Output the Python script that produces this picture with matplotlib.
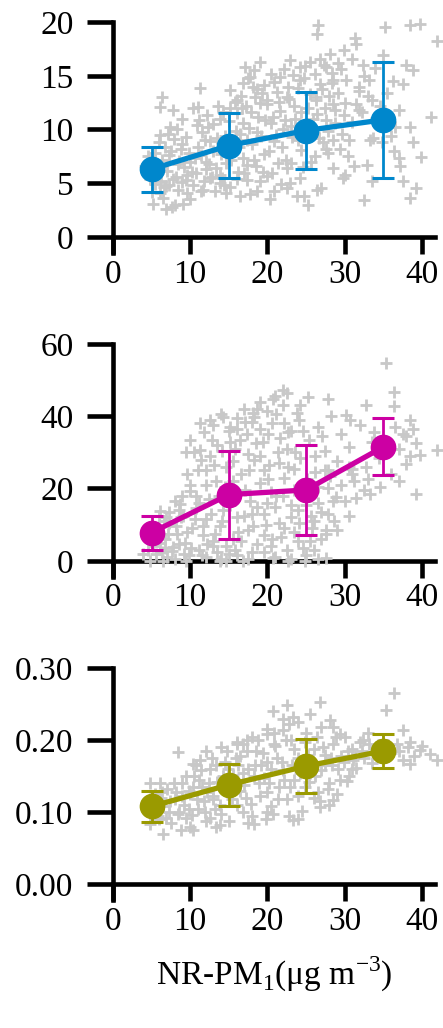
"""
NR-PM1 と各成分の散布図（3段）
"""
import matplotlib
matplotlib.use('Agg')
import matplotlib.pyplot as plt

plt.rcParams['font.family'] = ['Liberation Serif', 'DejaVu Serif']
plt.rcParams['mathtext.fontset'] = 'custom'
plt.rcParams['mathtext.rm'] = 'Liberation Serif'

# ビン中心と平均値・標準偏差
bin_x = [5, 15, 25, 35]
mean1 = [6.3, 8.5, 9.9, 10.9]
std1 = [2.1, 3.0, 3.55, 5.4]
mean2 = [7.8, 18.3, 19.6, 31.5]
std2 = [4.7, 12.2, 12.5, 7.9]
mean3 = [0.108, 0.138, 0.164, 0.185]
std3 = [0.021, 0.029, 0.038, 0.023]

# 散布図データ
sc1_x = [26.6, 26.4, 35.2, 38.4, 39.7, 41.9, 31.3, 31.5, 29.9, 30.9, 35.0, 22.9, 19.0, 17.1, 24.2, 25.5,
         26.8, 27.6, 32.4, 33.9, 38.0, 38.9, 36.3, 21.6, 24.2, 28.5, 30.2, 31.9, 33.2, 17.7, 16.9, 18.6,
         15.1, 11.3, 6.3, 6.1, 7.8, 11.0, 16.0, 19.9, 22.5, 26.3, 28.5, 31.9, 33.6, 37.1, 41.2, 38.4,
         38.9, 33.7, 28.5, 29.4, 27.6, 37.1, 39.9, 36.4, 32.9, 28.5, 30.1, 37.6, 39.3, 38.4, 32.5, 25.3,
         26.4, 24.7, 22.5, 20.8, 18.6, 16.4, 14.7, 11.4, 9.1, 7.6, 5.2, 6.1, 6.9, 9.5, 12.5, 13.8,
         17.3, 19.9, 22.5, 24.2,
         4.5, 5.2, 5.8, 6.4, 7.0, 7.5, 8.1, 8.6, 9.2, 9.8, 4.8, 5.5, 6.2, 7.3, 8.4, 9.0,
         4.2, 6.8, 7.9, 9.5, 5.9, 8.8, 10.2, 10.6, 11.0, 11.5, 10.9, 12.1, 12.5, 13.0, 13.4, 12.8,
         11.8, 10.4, 14.0, 14.5, 15.0, 15.5, 16.0, 16.4, 16.8, 17.2, 17.6, 18.0, 18.4, 18.8, 19.2, 19.6,
         20.0, 20.4, 20.8, 21.2, 21.6, 22.0, 22.4, 22.8, 23.2, 23.6, 24.0, 24.4, 24.8, 25.2, 25.6, 26.0,
         26.4, 26.8, 27.2, 27.6, 28.0, 28.4, 28.8, 29.2, 29.6, 30.0, 30.4, 31.0, 31.8, 32.5, 33.3, 34.0,
         35.5, 36.5, 37.5, 17.5, 18.3, 19.5, 20.5, 22.2, 16.6, 15.8, 14.2, 13.6, 12.2, 11.2, 8.3, 7.1,
         16.2, 18.5, 20.6, 23.0, 21.8, 19.0, 15.2, 13.2, 17.8, 14.6, 12.0, 9.6, 6.5, 5.0,
         5.5, 6.0, 6.6, 7.2, 7.8, 8.4, 9.0, 9.6, 10.0, 10.8, 11.4, 11.9, 12.4, 12.9, 13.5, 14.1,
         14.7, 15.3, 15.9, 16.3, 16.9, 17.4, 17.9, 18.2, 18.7, 19.1, 19.7, 20.2, 20.7, 21.1, 21.5, 21.9,
         22.3, 22.7, 23.1, 23.5, 23.9, 24.3, 24.7, 25.1, 25.5, 25.9, 26.3, 26.7, 27.1, 27.5, 27.9, 28.3,
         28.7, 29.1, 29.5, 29.9, 12.3, 13.8, 15.2, 16.7, 18.1, 19.3, 20.9, 23.3, 24.9, 26.1, 27.3, 28.1,
         7.4, 6.1, 8.9, 10.3, 14.4, 16.0, 17.3, 19.4, 21.4, 22.9, 24.6, 26.2, 27.8, 30.6, 31.5, 32.2,
         33.0, 34.6, 29.8, 27.0, 23.8, 20.3, 17.0, 10.0, 8.0, 6.9, 11.6, 13.9, 36.0, 37.2, 31.2, 34.8,
         33.5]
sc1_y = [19.7, 18.9, 19.5, 19.7, 19.8, 18.2, 18.5, 18.0, 17.4, 16.6, 16.9, 16.5, 16.3, 15.8, 15.8, 16.3,
         16.6, 15.8, 16.0, 15.7, 16.0, 15.5, 14.5, 14.9, 14.6, 14.6, 14.6, 14.0, 14.6, 14.9, 14.3, 13.8,
         13.7, 13.9, 13.0, 12.1, 11.8, 12.1, 12.7, 12.7, 13.0, 13.0, 12.4, 11.8, 12.7, 11.8, 11.2, 10.2,
         8.8, 9.2, 9.0, 8.2, 8.2, 7.3, 7.4, 8.0, 6.7, 6.4, 5.8, 5.2, 4.5, 3.6, 3.4, 3.0,
         4.4, 3.8, 4.5, 4.3, 4.3, 3.8, 4.1, 4.3, 3.1, 2.8, 3.1, 4.1, 4.7, 5.3, 5.5, 5.0,
         5.3, 5.7, 6.4, 5.5,
         7.5, 6.8, 5.9, 7.2, 6.1, 8.0, 5.6, 7.1, 6.5, 7.8, 5.4, 4.9, 5.2, 4.8, 4.4, 5.1,
         6.6, 8.4, 9.1, 9.3, 8.8, 8.2, 6.0, 7.3, 8.4, 9.8, 10.4, 7.0, 8.9, 10.5, 6.4, 5.6,
         5.2, 4.8, 7.7, 9.4, 10.8, 8.3, 11.5, 9.6, 7.3, 12.2, 10.1, 8.6, 13.0, 11.2, 9.4, 7.7,
         12.4, 10.6, 8.9, 13.5, 11.7, 10.0, 7.2, 12.8, 9.3, 11.0, 13.9, 8.1, 10.4, 12.0, 7.0, 9.7,
         11.4, 14.2, 8.8, 10.9, 13.1, 15.3, 11.8, 16.2, 9.6, 12.5, 7.5, 10.7, 13.6, 15.0, 9.0, 11.1,
         13.4, 10.2, 14.2, 14.8, 15.5, 14.1, 15.2, 15.6, 13.1, 12.6, 11.6, 12.2, 11.3, 10.9, 10.0, 9.6,
         6.0, 6.6, 5.9, 6.9, 4.9, 5.2, 4.6, 4.3, 4.0, 6.9, 6.3, 4.1, 3.6, 4.2,
         7.8, 6.4, 4.6, 7.6, 5.4, 6.8, 8.6, 5.8, 7.0, 5.9, 7.6, 9.0, 6.8, 8.0, 9.2, 5.5,
         8.1, 7.2, 9.9, 8.4, 10.6, 9.0, 11.6, 7.2, 9.8, 12.5, 10.9, 8.0, 11.2, 9.5, 12.6, 8.4,
         10.9, 14.0, 10.3, 12.2, 9.0, 11.6, 14.8, 9.9, 13.3, 11.0, 12.7, 9.2, 13.8, 12.0, 9.9, 14.3,
         10.6, 13.4, 15.6, 11.3, 10.2, 11.0, 12.0, 12.0, 14.0, 13.4, 14.4, 15.1, 15.9, 15.2, 16.0, 17.0,
         10.2, 9.5, 11.0, 12.0, 4.8, 5.4, 6.7, 6.0, 6.9, 5.0, 6.5, 7.5, 7.8, 9.0, 12.4, 11.6,
         13.1, 12.2, 5.5, 4.5, 3.8, 3.5, 5.9, 3.5, 3.0, 2.6, 4.4, 5.8, 9.4, 6.6, 6.6, 8.8,
         5.2]

sc2_x = [35.3, 36.4, 36.4, 32.8, 22.0, 22.5, 20.7, 25.3, 27.9, 24.2, 18.6, 18.2, 30.2, 30.7, 38.4, 38.9,
         37.6, 41.9, 39.8, 38.0, 37.1, 39.3, 33.3, 34.6, 31.0, 30.6, 27.9, 28.9, 27.9, 27.6, 27.6, 24.8,
         22.6, 20.7, 16.9, 14.7, 13.8, 9.5, 6.5, 4.8, 3.9, 11.3, 12.5, 14.3, 15.2, 10.0, 9.5, 11.3,
         12.1, 10.0, 8.7, 6.1, 6.9,
         4.5, 5.2, 5.8, 6.3, 6.8, 7.3, 7.8, 8.3, 8.8, 9.3, 9.8, 10.2, 10.7, 11.1, 11.6, 12.0,
         12.4, 12.9, 13.3, 13.8, 14.2, 14.6, 15.0, 15.4, 15.8, 16.2, 16.6, 17.0, 17.4, 17.8, 18.2, 18.6,
         19.0, 19.4, 19.8, 20.2, 20.6, 21.0, 21.4, 21.8, 22.2, 22.6, 23.0, 23.4, 23.8, 24.2, 24.6, 25.0,
         25.4, 25.8, 26.2, 26.6, 27.0, 27.4, 27.8, 28.2, 28.6, 29.0, 29.5, 30.0, 30.6, 31.2, 32.0, 32.8,
         33.6, 34.4, 36.0, 37.0, 38.0, 39.2, 11.0, 10.5, 11.8, 13.0, 14.0, 15.0, 16.0, 17.0, 18.0, 19.0,
         20.0, 21.0, 22.0, 12.5, 13.5, 14.5, 15.5, 16.5, 17.5, 18.5, 19.5, 20.5, 21.5, 22.5, 23.5, 24.5,
         25.5, 26.5, 27.5, 9.0, 8.5, 10.0, 6.0, 7.0, 8.0, 12.0, 14.0, 16.0, 17.5, 19.5, 21.0, 23.0,
         25.0, 26.5, 13.0, 15.5, 17.5, 19.5, 21.5, 23.5, 25.5, 27.0, 18.0, 20.0, 22.0, 24.0, 26.0, 28.5,
         29.5, 31.0, 32.5, 33.0, 35.0, 36.5,
         5.0, 5.6, 6.1, 6.6, 7.1, 7.6, 8.1, 8.6, 9.1, 9.6, 10.1, 10.6, 11.2, 11.7, 12.2, 12.7,
         13.2, 13.7, 14.1, 14.6, 15.1, 15.6, 16.1, 16.6, 17.1, 17.6, 18.1, 18.6, 19.1, 19.6, 20.1, 20.6,
         21.1, 21.6, 22.1, 22.6, 23.1, 23.6, 24.1, 24.6, 25.1, 25.6, 26.1, 26.6, 27.1, 27.6, 28.1, 12.0,
         13.1, 14.1, 15.1, 16.1, 17.1, 18.1, 19.1, 20.1, 21.1, 22.1, 23.1, 24.1, 10.8, 9.6, 11.4, 12.8,
         8.0, 7.2, 4.6, 6.8, 9.2, 11.5, 13.5, 15.8, 18.0, 20.5, 22.5, 24.0, 26.0, 29.0, 30.5, 31.5,
         33.8, 35.5, 38.5]
sc2_y = [54.6, 46.8, 42.7, 43.1, 47.2, 46.3, 44.9, 45.4, 44.9, 43.1, 42.1, 39.8, 40.3, 38.9, 38.9, 36.6,
         35.2, 30.6, 29.2, 26.9, 22.2, 18.5, 18.5, 20.4, 24.1, 25.9, 25.0, 17.6, 13.0, 7.4, 0.9, 0.0,
         0.0, 0.9, 0.0, 0.0, 0.0, 0.0, 0.0, 0.0, 1.9, 38.0, 38.9, 39.8, 37.0, 33.3, 30.1, 30.6,
         25.0, 19.4, 15.7, 13.9, 12.0,
         6.5, 4.0, 8.8, 2.5, 6.0, 10.5, 3.8, 7.5, 12.0, 5.0, 1.5, 9.0, 14.5, 3.0, 7.0, 11.5,
         17.0, 5.5, 22.0, 9.5, 14.0, 26.0, 2.0, 19.0, 31.0, 8.0, 24.0, 12.5, 35.0, 16.5, 28.0, 4.5,
         21.5, 33.0, 10.0, 26.5, 38.0, 15.0, 30.0, 6.5, 23.0, 35.5, 12.0, 19.5, 41.0, 28.5, 3.5, 15.5,
         33.5, 9.0, 24.5, 37.0, 13.5, 30.5, 20.0, 40.0, 11.0, 27.5, 35.0, 16.5, 31.5, 22.0, 37.5, 26.0,
         33.0, 28.5, 24.0, 31.0, 34.5, 32.5, 25.0, 30.0, 35.5, 37.5, 40.5, 36.0, 39.5, 42.0, 38.5, 44.0,
         41.5, 45.5, 43.0, 29.0, 32.0, 20.5, 27.5, 33.5, 29.5, 32.5, 25.0, 19.0, 27.0, 31.0, 25.5, 21.0,
         18.0, 16.0, 25.0, 18.0, 14.0, 21.0, 12.5, 1.0, 0.5, 1.0, 0.5, 1.5, 0.5, 2.5, 1.0, 0.5,
         1.5, 0.5, 4.0, 6.0, 8.5, 7.0, 10.5, 8.0, 5.5, 6.0, 13.0, 16.0, 18.0, 14.0, 11.0, 16.5,
         21.0, 25.5, 19.5, 22.5, 29.5, 37.0,
         9.5, 2.0, 5.0, 11.0, 7.5, 2.8, 9.5, 4.5, 12.5, 8.0, 3.5, 11.5, 16.0, 9.5, 4.5, 13.0,
         7.5, 18.0, 11.0, 4.0, 15.5, 22.0, 12.0, 5.5, 19.5, 25.0, 9.5, 15.0, 29.0, 13.0, 22.5, 6.0,
         18.0, 34.0, 9.0, 26.0, 15.5, 30.0, 10.5, 36.0, 22.5, 12.5, 29.0, 20.5, 34.5, 8.5, 23.5, 21.0,
         26.5, 30.5, 33.0, 36.5, 38.5, 41.0, 36.5, 35.0, 40.5, 38.0, 36.0, 39.0, 18.0, 24.0, 28.0, 33.5,
         16.5, 13.5, 3.0, 3.5, 2.0, 1.5, 2.5, 3.0, 2.5, 4.0, 3.0, 5.5, 3.0, 8.5, 12.5, 17.5,
         35.5, 33.0, 29.0]

sc3_x = [36.4, 35.3, 26.8, 22.5, 20.7, 25.5, 23.3, 28.1, 28.5, 29.4, 37.6, 38.4, 39.7, 41.9, 41.0, 38.4,
         32.4, 31.1, 30.3, 28.5, 26.8, 23.3, 20.7, 18.2, 13.4, 10.4, 6.5, 4.8, 4.8, 6.1, 8.4, 10.4,
         11.3, 16.0, 17.3, 19.9, 22.0,
         4.5, 5.0, 5.5, 6.0, 6.5, 7.0, 7.5, 8.0, 8.5, 9.0, 9.5, 10.0, 10.5, 11.0, 11.5, 12.0,
         12.5, 13.0, 13.5, 14.0, 14.5, 15.0, 15.5, 16.0, 16.5, 17.0, 17.5, 18.0, 18.5, 19.0, 19.5, 20.0,
         20.5, 21.0, 21.5, 22.0, 22.5, 23.0, 23.5, 24.0, 24.5, 25.0, 25.5, 26.0, 26.5, 27.0, 27.5, 28.0,
         28.5, 29.0, 29.5, 30.0, 30.5, 31.0, 31.5, 32.0, 32.5, 33.0, 33.5, 34.0, 35.0, 36.0, 36.8, 37.5,
         39.0, 40.0, 6.2, 7.2, 8.2, 9.2, 10.2, 11.2, 12.2, 13.2, 14.2, 15.2, 16.2, 17.2, 18.2, 19.2,
         20.2, 21.2, 22.2, 23.2, 24.2, 25.2, 26.2, 27.2, 28.2, 29.2, 14.8, 16.8, 18.8, 20.8, 22.8, 12.8,
         10.8, 24.8, 26.8, 22.8, 19.8, 16.8, 13.8, 11.8, 9.8, 8.8,
         5.3, 5.8, 6.4, 6.9, 7.4, 7.9, 8.4, 8.9, 9.4, 9.9, 10.4, 10.9, 11.4, 11.9, 12.4, 12.9,
         13.4, 13.9, 14.4, 14.9, 15.4, 15.9, 16.4, 16.9, 17.4, 17.9, 18.4, 18.9, 19.4, 19.9, 20.4, 20.9,
         21.4, 21.9, 22.4, 22.9, 23.4, 23.9, 24.4, 24.9, 25.4, 25.9, 26.4, 26.9, 27.4, 27.9, 28.4, 28.9,
         29.4, 29.9, 30.4, 30.9, 31.4, 32.3, 33.2, 34.2, 35.6, 37.0, 38.2, 12.0, 14.0, 16.0, 18.0, 20.0,
         22.0, 24.0, 10.0, 12.5, 15.0, 17.5, 20.0, 24.0, 26.0, 28.0]
sc3_y = [0.265, 0.242, 0.253, 0.249, 0.241, 0.237, 0.232, 0.228, 0.219, 0.209, 0.214, 0.198, 0.186, 0.172,
         0.181, 0.167, 0.200, 0.172, 0.144, 0.117, 0.107, 0.089, 0.098, 0.084, 0.080, 0.075, 0.070, 0.084,
         0.140, 0.140, 0.184, 0.167, 0.172, 0.195, 0.200, 0.209, 0.214,
         0.115, 0.098, 0.125, 0.090, 0.108, 0.132, 0.085, 0.118, 0.100, 0.140, 0.092, 0.125, 0.150, 0.105,
         0.135, 0.088, 0.160, 0.118, 0.142, 0.098, 0.170, 0.128, 0.152, 0.110, 0.178, 0.138, 0.160, 0.095,
         0.185, 0.122, 0.148, 0.170, 0.108, 0.192, 0.135, 0.158, 0.118, 0.200, 0.145, 0.175, 0.102, 0.210,
         0.155, 0.188, 0.128, 0.218, 0.165, 0.140, 0.195, 0.125, 0.178, 0.205, 0.150, 0.188, 0.162, 0.198,
         0.175, 0.210, 0.168, 0.190, 0.200, 0.182, 0.195, 0.172, 0.178, 0.192,
         0.120, 0.100, 0.128, 0.110, 0.096, 0.145, 0.128, 0.105, 0.150, 0.140, 0.165, 0.120, 0.150, 0.165,
         0.140, 0.175, 0.145, 0.165, 0.155, 0.180, 0.150, 0.190, 0.175, 0.160, 0.185, 0.195, 0.200, 0.210,
         0.222, 0.175, 0.165, 0.135, 0.115, 0.095, 0.090, 0.100, 0.082, 0.115, 0.130, 0.075,
         0.110, 0.095, 0.128, 0.092, 0.115, 0.140, 0.098, 0.122, 0.150, 0.105, 0.135, 0.118, 0.158, 0.100,
         0.140, 0.122, 0.165, 0.110, 0.138, 0.160, 0.118, 0.175, 0.130, 0.155, 0.185, 0.112, 0.165, 0.140,
         0.182, 0.128, 0.160, 0.195, 0.118, 0.170, 0.200, 0.135, 0.188, 0.122, 0.170, 0.198, 0.142, 0.168,
         0.205, 0.158, 0.180, 0.132, 0.165, 0.205, 0.145, 0.170, 0.185, 0.160, 0.178, 0.185, 0.195, 0.180,
         0.178, 0.185, 0.190, 0.185, 0.190, 0.198, 0.205, 0.215, 0.230, 0.225, 0.080, 0.092, 0.088, 0.085,
         0.100, 0.090, 0.120, 0.110]

colors = ['#0087CC', '#CC00A3', '#9A9A00']
yticks = [[0, 5, 10, 15, 20], [0, 20, 40, 60], [0.0, 0.1, 0.2, 0.3]]
yticklabels = [['0', '5', '10', '15', '20'], ['0', '20', '40', '60'], ['0.00', '0.10', '0.20', '0.30']]
ylims = [(-1.5, 20), (-4.5, 60), (-0.022, 0.30)]
xticks = [0, 10, 20, 30, 40]

fig = plt.figure(figsize=(4.43, 10.28), dpi=100)
# 各パネルの位置 [left, bottom, width, height]
positions = [[0.255, 0.754, 0.727, 0.2245],
             [0.255, 0.4387, 0.727, 0.2267],
             [0.255, 0.1245, 0.727, 0.2255]]

sc_data = [(sc1_x, sc1_y), (sc2_x, sc2_y), (sc3_x, sc3_y)]
means = [mean1, mean2, mean3]
stds = [std1, std2, std3]

for i in range(3):
    ax = fig.add_axes(positions[i])
    ax.plot(sc_data[i][0], sc_data[i][1], linestyle='none', marker='+', markersize=9,
            markeredgewidth=2.0, color='#c8c8c8', zorder=3, clip_on=False)
    ax.errorbar(bin_x, means[i], yerr=stds[i], color=colors[i], marker='o', markersize=17.5,
                linewidth=3.8, elinewidth=2.0, capsize=8, capthick=2.2, zorder=5, clip_on=False)

    ax.set_xlim(0, 41.7)
    ax.set_ylim(*ylims[i])
    ax.set_xticks(xticks)
    ax.set_xticklabels([str(t) for t in xticks])
    ax.set_yticks(yticks[i])
    ax.set_yticklabels(yticklabels[i])

    for s in ['top', 'right']:
        ax.spines[s].set_visible(False)
    ax.spines['left'].set_linewidth(3.3)
    ax.spines['bottom'].set_linewidth(3.3)
    ax.spines['bottom'].set_position(('data', 0))
    ax.spines['bottom'].set_zorder(2)

    ax.tick_params(axis='y', direction='out', length=19, width=3.3, pad=9.5, labelsize=24)
    ax.tick_params(axis='x', direction='out', length=12, width=3.3, pad=4, labelsize=24)

    if i == 2:
        ax.set_xlabel(r'NR-PM$_\mathregular{1}$(μg m$^\mathregular{-3}$)', fontsize=24, labelpad=13)

plt.savefig('out.png', dpi=100)
plt.close()
